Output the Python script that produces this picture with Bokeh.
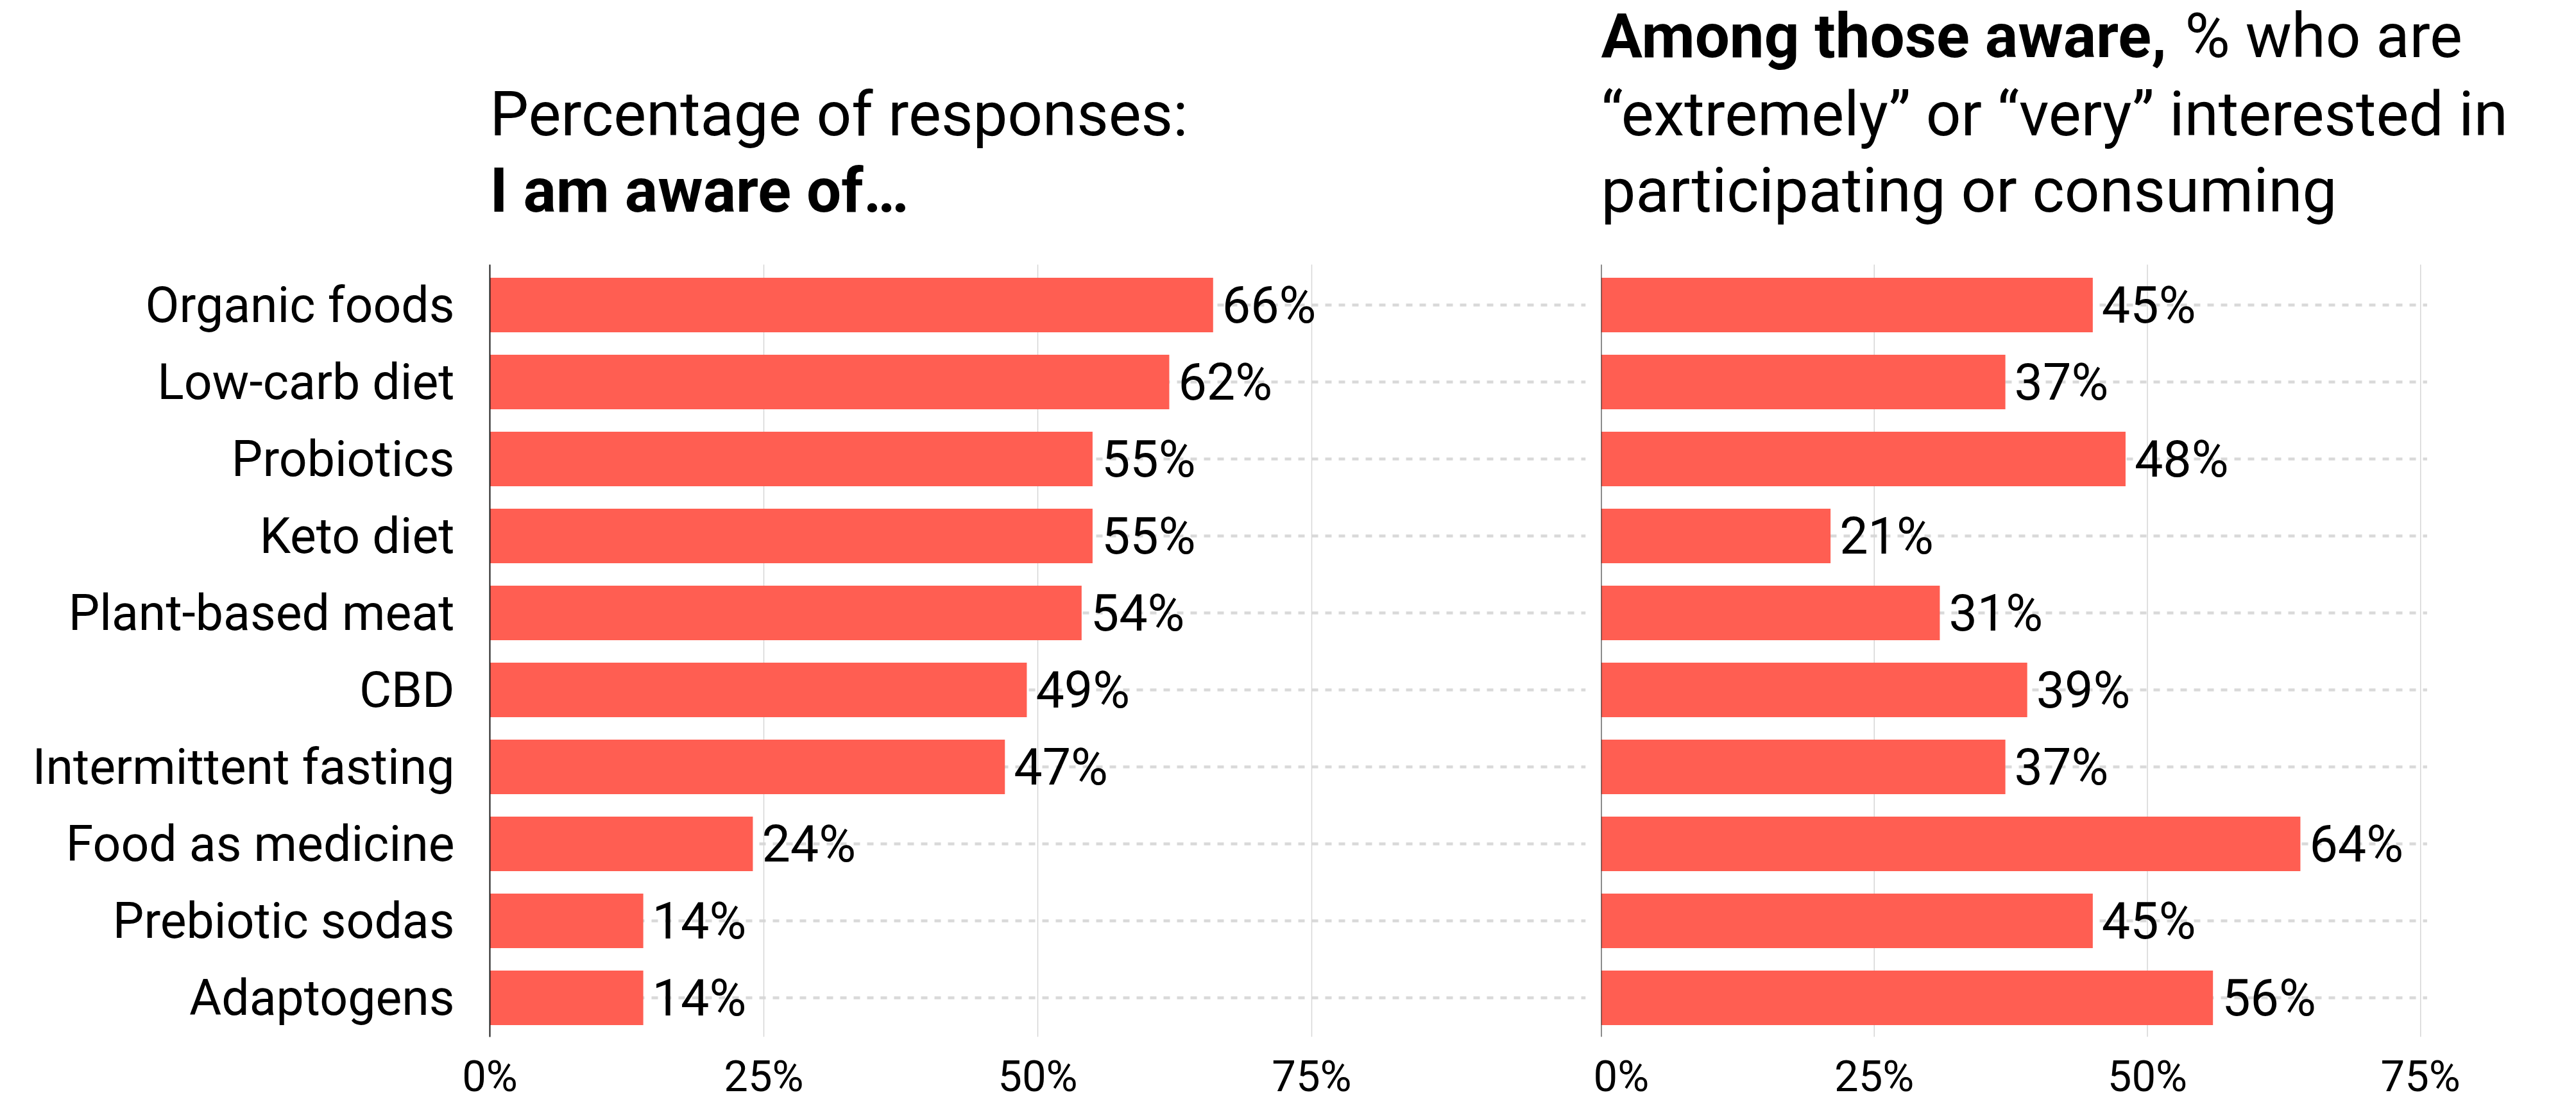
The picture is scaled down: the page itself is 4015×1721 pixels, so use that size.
from bokeh.plotting import figure
from bokeh.models import Range1d, FixedTicker, ColumnDataSource
from bokeh.layouts import row
from bokeh.embed import file_html
from bokeh.resources import INLINE
from bokeh.core.properties import value

# ---------------- data ----------------
categories = ["Organic foods", "Low-carb diet", "Probiotics", "Keto diet",
              "Plant-based meat", "CBD", "Intermittent fasting",
              "Food as medicine", "Prebiotic sodas", "Adaptogens"]
aware = [66, 62, 55, 55, 54, 49, 47, 24, 14, 14]
interested = [45, 37, 48, 21, 31, 39, 37, 64, 45, 56]
x_ticks = [0, 25, 50, 75]
x_tick_labels = ["0%", "25%", "50%", "75%"]

left_title_normal = "Percentage of responses:"
left_title_bold = "I am aware of…"
right_title_bold = "Among those aware,"
right_title_rest = ["% who are",
                    "“extremely” or “very” interested in",
                    "participating or consuming"]

# ---------------- style / layout ----------------
FONT = "Roboto"
BAR = "#FF5E52"
GRID = "#d6d6d6"
DOT = "#d9d9d9"
BAR_H = 0.71
PX_PER_ROW = 120.0
FRAME_H = 1616                       # figure top -> bottom of bar area
y_bottom = len(categories) - 1 + 61 / PX_PER_ROW
y_frame_top = y_bottom - FRAME_H / PX_PER_ROW
y_area_top = -0.525                  # top of the bar area
# vertical centres of the three title lines (rows above the bar area)
title_y = [(55 - 475) / PX_PER_ROW, (177 - 475) / PX_PER_ROW, (296 - 475) / PX_PER_ROW]

ypos = list(range(len(categories)))


def base_fig(frame_w, x_end, left, right, y_axis_location):
    p = figure(frame_width=frame_w, frame_height=FRAME_H,
               x_range=Range1d(0, x_end), y_range=Range1d(y_bottom, y_frame_top),
               output_backend="svg", toolbar_location=None,
               min_border_left=left, min_border_right=right,
               min_border_top=0, min_border_bottom=0,
               y_axis_location=y_axis_location)
    p.outline_line_color = None
    p.background_fill_color = "white"
    p.border_fill_color = "white"
    p.xaxis.ticker = FixedTicker(ticks=x_ticks)
    p.xaxis.major_label_overrides = {t: l for t, l in zip(x_ticks, x_tick_labels)}
    p.xaxis.axis_line_color = None
    p.xaxis.major_tick_line_color = None
    p.xaxis.minor_tick_line_color = None
    p.xaxis.major_tick_out = 0
    p.xaxis.major_label_text_font = FONT
    p.xaxis.major_label_text_font_size = "67px"
    p.xaxis.major_label_text_color = "black"
    p.xaxis.major_label_standoff = 22
    p.xgrid.visible = False
    p.ygrid.visible = False
    return p


def add_panel(p, vals, dot_end):
    n = len(ypos)
    # dotted row guides
    p.segment(x0=[0] * n, x1=[dot_end] * n, y0=ypos, y1=ypos,
              line_color=DOT, line_width=4.5, line_dash="10 11")
    # vertical grid lines at the ticks
    gt = x_ticks[1:]
    p.segment(x0=gt, x1=gt, y0=[y_area_top] * len(gt), y1=[y_bottom] * len(gt),
              line_color=GRID, line_width=1.5)
    src = ColumnDataSource(dict(y=ypos, v=vals, lab=[f"{v}%" for v in vals]))
    p.hbar(y="y", right="v", left=0, height=BAR_H, source=src,
           fill_color=BAR, line_color=None)
    p.text(x="v", y="y", text="lab", source=src, x_offset=14,
           text_baseline="middle", text_align="left",
           text_font=value(FONT), text_font_size="79px", text_color="black")


def add_title(p, txt, y, style, x_offset=0):
    p.text(x=[0], y=[y], text=[txt], x_offset=x_offset,
           text_baseline="middle", text_align="left",
           text_font=value(FONT), text_font_size="96px",
           text_font_style=value(style), text_color="black")


# ---------------- left panel ----------------
p1 = base_fig(1708, 100, 763, 12, "left")
p1.yaxis.ticker = FixedTicker(ticks=ypos)
p1.yaxis.major_label_overrides = {i: c for i, c in zip(ypos, categories)}
p1.yaxis.bounds = (y_area_top, y_bottom)
p1.yaxis.major_tick_line_color = None
p1.yaxis.minor_tick_line_color = None
p1.yaxis.major_tick_out = 0
p1.yaxis.axis_line_color = "#1a1a1a"
p1.yaxis.axis_line_width = 2
p1.yaxis.major_label_standoff = 55
p1.yaxis.major_label_text_font = FONT
p1.yaxis.major_label_text_font_size = "77px"
p1.yaxis.major_label_text_color = "black"
add_panel(p1, aware, 100)
add_title(p1, left_title_normal, title_y[1], "normal")
add_title(p1, left_title_bold, title_y[2], "bold")

# ---------------- right panel ----------------
p2 = base_fig(1504, 1504 / 17.03, 12, 0, None)
add_panel(p2, interested, 75.6)
p2.segment(x0=[0], x1=[0], y0=[y_area_top], y1=[y_bottom],
           line_color="#1a1a1a", line_width=2)
add_title(p2, right_title_bold, title_y[0], "bold")
add_title(p2, right_title_rest[0], title_y[0], "normal", x_offset=910)
add_title(p2, right_title_rest[1], title_y[1], "normal")
add_title(p2, right_title_rest[2], title_y[2], "normal")

layout = row(p1, p2)
open("out.html", "w").write(file_html(layout, INLINE))
